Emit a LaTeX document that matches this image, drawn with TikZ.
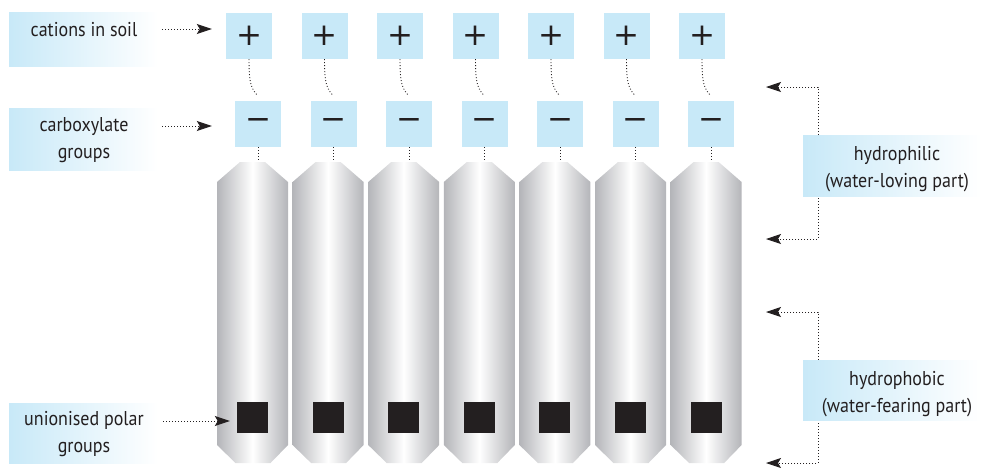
\documentclass[tikz,border=0pt]{standalone}
\usepackage{fontspec}
\setmainfont{PT Sans}[FakeStretch=0.9]
\newfontfamily\signfont{DejaVu Sans}
\usetikzlibrary{arrows.meta,calc}
\definecolor{txt}{HTML}{231F20}
\definecolor{lblue}{HTML}{C8E9F8}
\definecolor{cylg}{HTML}{B4B5B9}
\begin{document}
\begin{tikzpicture}[x=1pt,y=-1pt,
 every node/.style={text=txt},
 lbl/.style={left color=lblue, right color=white, draw=none, inner sep=0pt},
 ltxt/.style={align=center, inner sep=0pt, font=\fontsize{20}{27}\selectfont},
 sbox/.style={fill=lblue, minimum width=46pt, minimum height=46pt, inner sep=0pt, font=\signfont\fontsize{31}{31}\selectfont},
 sq/.style={fill=txt, minimum width=31pt, minimum height=31pt, inner sep=0pt},
 dots/.style={line width=0.9pt, dash pattern=on 0.9pt off 2.1pt, draw=txt},
 arr/.style={dots, -{Stealth[length=15pt,width=10pt,inset=3pt]}},
]
\useasboundingbox (0,0) rectangle (981,467);

% left labels
\node[lbl, minimum width=149pt, minimum height=54pt] (lab1) at (83.5,39) {};
\node[ltxt] (t1) at (84,30) {cations in soil};
\node[lbl, minimum width=149pt, minimum height=62pt] (lab2) at (83.5,139) {};
\node[ltxt] (t2) at (84,140) {carboxylate\\groups};
\node[lbl, minimum width=149pt, minimum height=60pt] (lab3) at (83.5,433) {};
\node[ltxt] (t3) at (84,434) {unionised polar\\groups};

\coordinate (a1) at (0,29);
\coordinate (a2) at (0,126);
\coordinate (a3) at (0,421);

% columns
\foreach \i in {0,...,6}{
  \pgfmathsetmacro{\cx}{252.5+75.6*\i}
  \pgfmathsetmacro{\px}{249+75.5*\i}
  \pgfmathsetmacro{\mx}{258+75.5*\i}
  \path[left color=cylg, right color=cylg, middle color=white]
    (\cx-35.5,182) -- (\cx-12.5,162) -- (\cx+12.5,162) -- (\cx+35.5,182)
    -- (\cx+35.5,445) -- (\cx+18,463) -- (\cx-17,463) -- (\cx-35.5,445) -- cycle;
  \coordinate (ct\i) at (\cx,162);
  \node[sbox] (p\i) at (\px,36) {+};
  \node[sbox] (m\i) at (\mx,124) {−};
  \node[sq] (q\i) at (\cx,417.5) {};
  \draw[dots] (p\i.south) .. controls +(0,24) and +(-7,-7) .. ([yshift=5pt]m\i.north);
  \draw[dots] (m\i.south) -- (m\i.south |- ct\i);
}

\draw[arr, shorten <=4pt, shorten >=14pt] (lab1.east |- a1) -- (p0.west |- a1);
\draw[arr, shorten <=4pt, shorten >=23pt] (lab2.east |- a2) -- (m0.west |- a2);
\draw[arr, shorten <=5pt, shorten >=7pt] (lab3.east |- a3) -- (q0.west |- a3);

% right brackets
\coordinate (h1a) at (766,87);
\coordinate (h1b) at (766,239);
\coordinate (v1) at (818,165);
\coordinate (h2a) at (766,312);
\coordinate (h2b) at (766,463);
\coordinate (v2) at (818,390);
\draw[arr] (v1) |- (h1a);
\draw[arr] (v1) |- (h1b);
\draw[arr] (v2) |- (h2a);
\draw[arr] (v2) |- (h2b);

\node[lbl, minimum width=178pt, minimum height=61pt] (hphil) at (892,165.5) {};
\node[ltxt] (t4) at (897,169) {hydrophilic\\(water-loving part)};
\node[lbl, minimum width=178pt, minimum height=60pt] (hphob) at (892,390) {};
\node[ltxt] (t5) at (897,394) {hydrophobic\\(water-fearing part)};
\end{tikzpicture}
\end{document}
